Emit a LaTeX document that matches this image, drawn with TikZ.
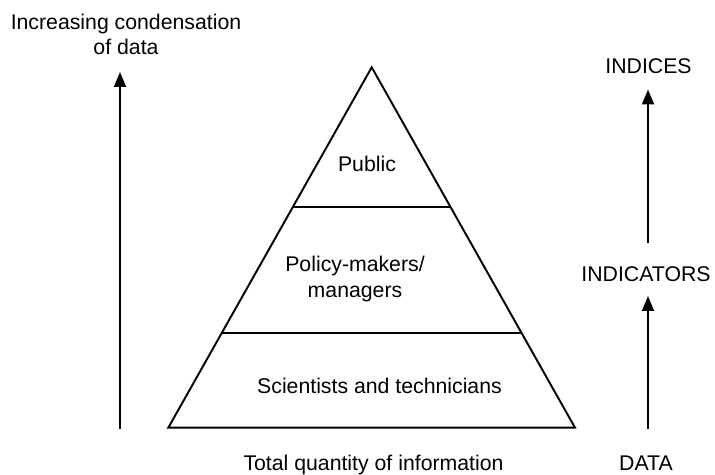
\documentclass[tikz,border=0pt]{standalone}
\usepackage{fontspec}
\setmainfont{Liberation Sans}
\usetikzlibrary{calc,arrows.meta}

\begin{document}
\begin{tikzpicture}[x=0.02cm,y=-0.02cm,>={Triangle[length=0.3cm,width=0.24cm]},
  every node/.style={font=\fontsize{12.1}{14.3}\selectfont,inner sep=0pt,align=center},
  edge/.style={line width=1.1pt}]
\useasboundingbox (0,0) rectangle (715,475);
% pyramid
\coordinate (top) at (371.7,67.3);
\coordinate (bl) at (168.3,427.7);
\coordinate (br) at (575,427.7);
\draw[edge,line join=miter] (top) -- (bl) -- (br) -- cycle;
\draw[edge] ($(top)!0.387!(bl)$) -- ($(top)!0.387!(br)$);
\draw[edge] ($(top)!0.738!(bl)$) -- ($(top)!0.738!(br)$);
\node[anchor=base] (public) at (367,172) {Public};
\node (policy) at (355,279) {Policy-makers/\\managers};
\node[anchor=base] (sci) at (379.5,393) {Scientists and technicians};
\node[anchor=base] (total) at (373.5,470) {Total quantity of information};
% left axis
\node (cond) at (126,34) {Increasing condensation\\of data};
\coordinate (c0) at (120,429);
\coordinate (c1) at (120,72);
\draw[edge,->] (c0) -- (c1);
% right axis
\node[anchor=base] (indices) at (648.5,73.3) {INDICES};
\node[anchor=base] (indicators) at (646,281.5) {INDICATORS};
\node[anchor=base] (data) at (646,470) {DATA};
\coordinate (d0) at (648,429);
\coordinate (d1) at (648,296);
\coordinate (i0) at (648,243);
\coordinate (i1) at (648,89.5);
\draw[edge,->] (d0) -- (d1);
\draw[edge,->] (i0) -- (i1);
\end{tikzpicture}
\end{document}
